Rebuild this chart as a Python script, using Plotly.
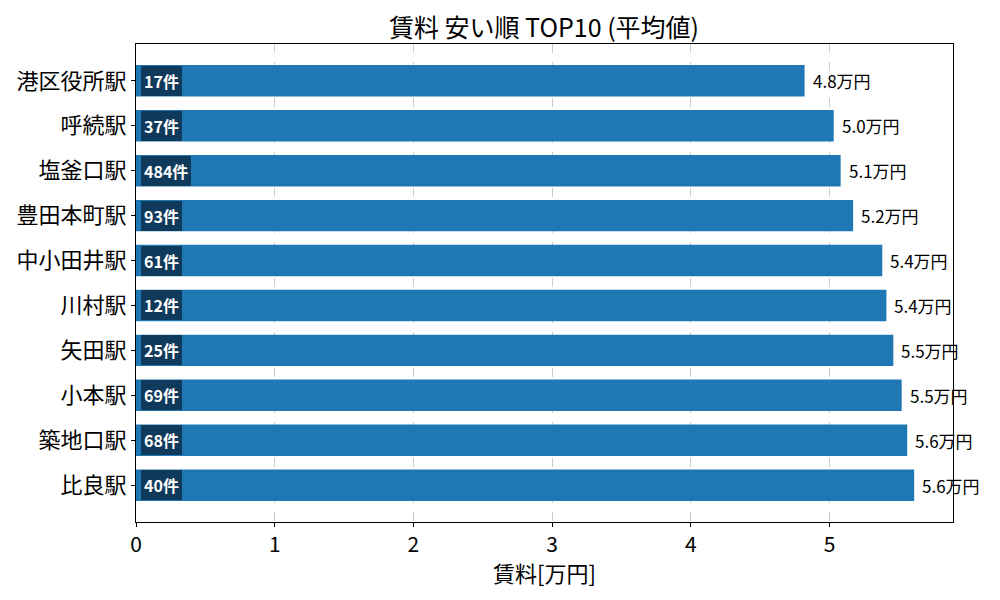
import plotly.graph_objects as go

# stations, average rent (万円) and listing counts, cheapest first
stations = ["港区役所駅", "呼続駅", "塩釜口駅", "豊田本町駅", "中小田井駅",
            "川村駅", "矢田駅", "小本駅", "築地口駅", "比良駅"]
rent = [4.82, 5.03, 5.08, 5.17, 5.38, 5.41, 5.46, 5.52, 5.56, 5.61]
counts = [17, 37, 484, 93, 61, 12, 25, 69, 68, 40]

FONT = "Noto Sans CJK JP"
BAR = "#1f77b4"
BADGE = "#103a5c"

fig = go.Figure()
fig.add_trace(go.Bar(
    x=rent, y=stations, orientation="h",
    marker=dict(color=BAR, line=dict(width=0)),
    width=0.7,
    hoverinfo="skip",
))

for s, c, v in zip(stations, counts, rent):
    # count badge at the left of each bar
    fig.add_annotation(
        x=0, y=s, xref="x", yref="y",
        text=f"<b>{c}件</b>", showarrow=False,
        xanchor="left", xshift=5,
        font=dict(family=FONT, size=16, color="white"),
        bgcolor=BADGE, bordercolor=BADGE, borderpad=2,
    )
    # value label past the bar end
    fig.add_annotation(
        x=v, y=s, xref="x", yref="y",
        text=f"{v:.1f}万円", showarrow=False,
        xanchor="left", xshift=6,
        font=dict(family=FONT, size=17, color="black"),
    )

# x axis title
fig.add_annotation(
    x=0.5, y=-0.105, xref="paper", yref="paper",
    text="賃料[万円]", showarrow=False, yanchor="middle",
    font=dict(family=FONT, size=22, color="black"),
)

# page body adds 8px margin, so offsets are compensated
fig.update_layout(
    width=1000, height=600,
    margin=dict(l=128, r=55, t=36, b=86, autoexpand=False),
    paper_bgcolor="white", plot_bgcolor="white",
    font=dict(family=FONT, color="black"),
    showlegend=False,
    title=dict(text="賃料 安い順 TOP10 (平均値)", x=0.536, xanchor="center",
               y=0.967, yanchor="middle", font=dict(size=25)),
)
fig.update_xaxes(
    range=[0, 5.89], dtick=1, tickformat="d",
    tickfont=dict(size=21),
    showgrid=True, gridcolor="#cccccc", griddash="dash", gridwidth=1,
    showline=True, linecolor="black", linewidth=1, mirror=True,
    ticks="outside", ticklen=4, tickcolor="black",
    zeroline=False, automargin=False,
)
fig.update_yaxes(
    range=[9.82, -0.82],
    tickfont=dict(size=22),
    showline=True, linecolor="black", linewidth=1, mirror=True,
    ticks="outside", ticklen=4, tickcolor="black",
    showgrid=False, automargin=False,
)

fig.write_html("out.html")
